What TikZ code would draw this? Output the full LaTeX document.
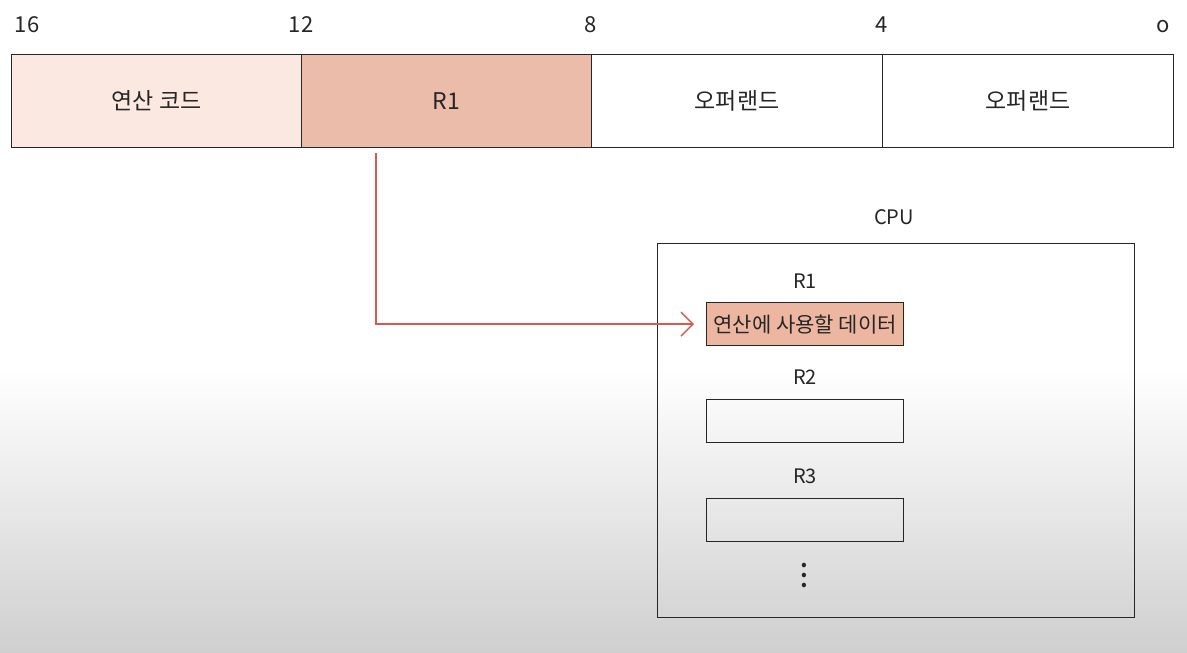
\documentclass[tikz,border=0pt]{standalone}
\usepackage{fontspec}
\setmainfont{Noto Sans CJK KR}
\setsansfont{Noto Sans CJK KR}
\usetikzlibrary{arrows.meta,positioning}
\definecolor{opc}{HTML}{FBE8E1}
\definecolor{rone}{HTML}{EBBCAA}
\definecolor{rfill}{HTML}{EDB6A1}
\definecolor{arr}{HTML}{D65A50}
\definecolor{ln}{HTML}{262626}
\definecolor{bggray}{HTML}{CFCFCF}
\begin{document}
\begin{tikzpicture}[x=1pt,y=-1pt,
  cell/.style={draw=ln,line width=1.1pt,minimum width=290pt,minimum height=93pt,inner sep=0pt,anchor=north west,font=\fontsize{23}{26}\selectfont,text=ln},
  reg/.style={draw=ln,line width=1.2pt,minimum width=197pt,minimum height=43pt,inner sep=0pt,anchor=north west,font=\fontsize{21}{24}\selectfont,text=ln},
  lbl/.style={font=\fontsize{20}{23}\selectfont,text=ln,inner sep=0pt},
  bit/.style={font=\fontsize{22}{24}\selectfont,text=ln,inner sep=0pt}]
\useasboundingbox (0,0) rectangle (1187,653);
\fill[white] (0,0) rectangle (1187,371);
\shade[top color=white,bottom color=bggray] (0,370) rectangle (1187,653);
% bit numbers
\node[bit] (b16) at (27,25) {16};
\node[bit] (b12) at (301,25) {12};
\node[bit] (b8) at (591,25) {8};
\node[bit] (b4) at (882,25) {4};
\node[bit] (b0) at (1163,27) {o};
% instruction cells
\node[cell,fill=opc,minimum width=290pt] (op) at (11,54) {연산 코드};
\node[cell,fill=rone] (r1c) at (301,54) {R1};
\node[cell,fill=white,minimum width=291pt] (o1) at (591,54) {오퍼랜드};
\node[cell,fill=white,minimum width=291pt] (o2) at (882,54) {오퍼랜드};
% CPU
\node[lbl] (cpul) at (894,217) {CPU};
\node[draw=ln,line width=1.2pt,minimum width=477pt,minimum height=374pt,inner sep=0pt,anchor=north west] (cpu) at (657,243) {};
\node[lbl] (l1) at (805,281) {R1};
\node[reg,fill=rfill] (reg1) at (706,302) {연산에 사용할 데이터};
\node[lbl] (l2) at (805,377) {R2};
\node[reg] (reg2) at (706,399) {};
\node[lbl] (l3) at (805,476) {R3};
\node[reg] (reg3) at (706,498) {};
\node[font=\fontsize{17}{10}\selectfont,text=ln,inner sep=0pt,align=center] (dots) at (804,577) {•\\•\\•};
% arrow
\coordinate (src) at (376,153);
\draw[arr,line width=1.4pt,shorten >=12pt,-{Straight Barb[length=12pt,width=24pt,line width=1.4pt]}] (src) |- (reg1.west);
\end{tikzpicture}
\end{document}
